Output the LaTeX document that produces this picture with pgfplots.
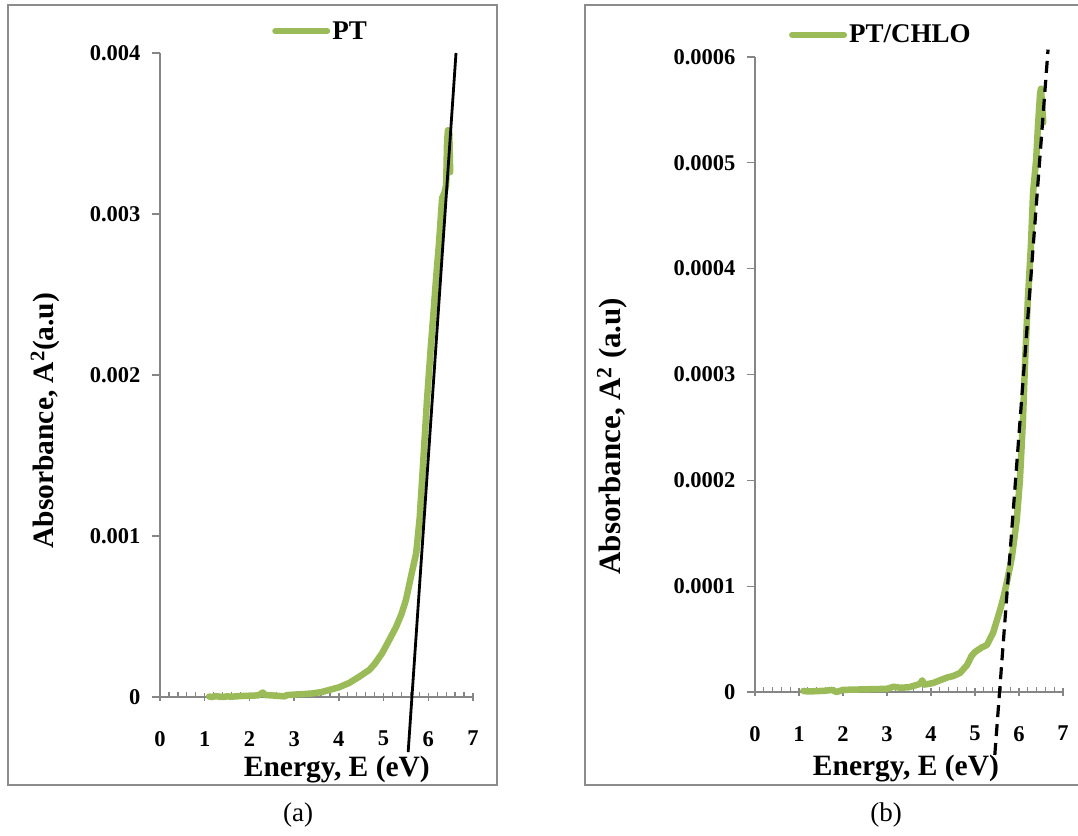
\documentclass[border=0pt]{standalone}
\usepackage{fontspec}
\setmainfont{Liberation Serif}
\usepackage{pgfplots}
\pgfplotsset{compat=1.18}
\definecolor{exgreen}{HTML}{9BBB59}
\definecolor{axgray}{HTML}{868686}
\definecolor{framegray}{HTML}{8C8C8C}

\pgfplotstableread{
x y
1.10 0.000003
1.15 0.000000
1.25 0.000005
1.40 0.000000
1.50 0.000004
1.60 0.000002
1.80 0.000006
2.00 0.000008
2.20 0.000010
2.30 0.000028
2.35 0.000012
2.50 0.000010
2.78 0.000004
2.85 0.000012
3.00 0.000015
3.20 0.000018
3.40 0.000022
3.60 0.000030
3.79 0.000044
4.00 0.000060
4.23 0.000087
4.45 0.000125
4.68 0.000168
4.80 0.000205
4.97 0.000273
5.10 0.000340
5.28 0.000435
5.40 0.000515
5.50 0.000602
5.63 0.000770
5.73 0.000894
5.81 0.001120
5.88 0.001430
5.97 0.001840
6.05 0.002150
6.12 0.002400
6.18 0.002620
6.24 0.002820
6.28 0.002980
6.31 0.003100
6.36 0.003130
6.40 0.003180
6.42 0.003450
6.44 0.003520
6.47 0.003500
6.49 0.003260
}\dataPT

\pgfplotstableread{
x y
1.10 0.0000010
1.20 0.0000005
1.40 0.0000008
1.60 0.0000012
1.75 0.0000020
1.85 0.0000000
2.00 0.0000020
2.50 0.0000025
3.00 0.0000030
3.15 0.0000050
3.30 0.0000040
3.50 0.0000045
3.75 0.0000076
3.80 0.0000110
3.85 0.0000070
4.05 0.0000085
4.20 0.0000110
4.39 0.0000140
4.50 0.0000150
4.66 0.0000180
4.82 0.0000255
4.92 0.0000340
5.00 0.0000378
5.15 0.0000420
5.27 0.0000444
5.41 0.0000558
5.50 0.0000680
5.57 0.0000775
5.65 0.0000900
5.72 0.0001030
5.78 0.0001150
5.84 0.0001280
5.95 0.0001630
6.02 0.0002000
6.09 0.0002570
6.14 0.0003140
6.20 0.0003700
6.27 0.0004210
6.32 0.0004720
6.39 0.0005030
6.43 0.0005340
6.48 0.0005660
6.50 0.0005700
6.55 0.0005380
}\dataPTC

\pgfplotsset{
  excel/.style={
    scale only axis,
    axis x line=bottom, axis y line=left,
    axis line style={-, axgray, line width=1.5pt},
    xmin=0, xmax=7, xtick={0,1,2,3,4,5,6,7},
    xticklabels={0,1,2,3,4,5,6,7},
    minor x tick num=4,
    tick style={axgray, line width=1.3pt},
    major tick length=8pt, minor tick length=5pt,
    tick align=outside,
    major x tick style={yshift=4pt},
    minor x tick style={yshift=5pt},
    ticklabel style={font=\fontsize{22.5}{24}\selectfont\bfseries},
    xticklabel style={yshift=-26pt, inner sep=0pt},
    yticklabel style={xshift=-8pt},
    scaled y ticks=false,
    clip=false,
    legend style={draw=none, fill=none, inner sep=0pt, anchor=west,
      font=\fontsize{27}{29}\selectfont\bfseries},
    legend image code/.code={\draw[#1, line width=6pt, line cap=round] (0pt,0pt)--(52pt,0pt);},
    label style={font=\fontsize{29.5}{31}\selectfont\bfseries},
  }
}

\begin{document}
\begin{tikzpicture}
\path[use as bounding box] (0,0) rectangle (1078pt,835pt);
% chart frames
\draw[framegray, line width=2pt] (8pt,50pt) rectangle (497pt,830pt);
\draw[framegray, line width=2pt] (1078pt,830pt) -- (585pt,830pt) -- (585pt,50pt) -- (1078pt,50pt);

\begin{axis}[excel,
  at={(160pt,138pt)}, anchor=south west,
  width=313pt, height=644pt,
  ymin=0, ymax=0.004,
  ytick={0,0.001,0.002,0.003,0.004},
  yticklabels={0,0.001,0.002,0.003,0.004},
  xlabel={Energy, E (eV)},
  ylabel={Absorbance, A\textsuperscript{2}(a.u)},
  xlabel style={at={(axis description cs:0.565,-0.112)}, anchor=center, inner sep=0pt},
  ylabel style={at={(axis description cs:-0.367,0.429)}, anchor=center, rotate=0},
  legend style={at={(axis description cs:0.358,1.034)}},
]
\addplot[exgreen, line width=6.5pt, line join=round, line cap=round] table[x=x,y=y] {\dataPT};
\addlegendentry{PT}
\addplot[black, line width=2.8pt, forget plot] coordinates {(5.55,-0.000342) (6.62,0.004)};
\end{axis}

\begin{axis}[excel,
  at={(755pt,143pt)}, anchor=south west,
  width=308pt, height=635pt,
  ymin=0, ymax=0.0006,
  ytick={0,0.0001,0.0002,0.0003,0.0004,0.0005,0.0006},
  yticklabels={0,0.0001,0.0002,0.0003,0.0004,0.0005,0.0006},
  xlabel={Energy, E (eV)},
  ylabel={Absorbance, A\textsuperscript{2} (a.u)},
  xlabel style={at={(axis description cs:0.490,-0.121)}, anchor=center, inner sep=0pt},
  ylabel style={at={(axis description cs:-0.464,0.403)}, anchor=center, rotate=0,
    font=\fontsize{31}{33}\selectfont\bfseries},
  legend style={at={(axis description cs:0.110,1.035)}},
]
\addplot[exgreen, line width=6.5pt, line join=round, line cap=round] table[x=x,y=y] {\dataPTC};
\addlegendentry{PT/CHLO}
\addplot[black, line width=3.2pt, dash pattern=on 12pt off 7pt, forget plot] coordinates {(5.45,-0.0000595) (6.66,0.000607)};
\end{axis}

\node[font=\fontsize{27}{30}\selectfont] at (298pt,20pt) {(a)};
\node[font=\fontsize{27}{30}\selectfont] at (886pt,20pt) {(b)};
\end{tikzpicture}
\end{document}
